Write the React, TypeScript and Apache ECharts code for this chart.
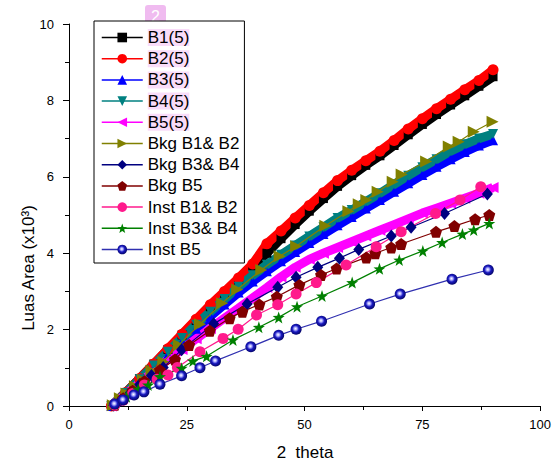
import React, { useEffect, useRef } from "react";
import * as echarts from "echarts";

const FONT = "'Liberation Sans', Arial, sans-serif";

// x positions (2 theta) read for the dense measurement series
const denseX = [9, 12, 15, 18, 21, 24, 27, 30, 33, 36, 39, 42, 45, 48, 51, 54, 57, 60, 63, 66, 69, 72, 75, 78, 81, 84, 87, 90];
const b1Y = [0, 0.35, 0.72, 1.1, 1.48, 1.86, 2.24, 2.6, 2.95, 3.3, 3.65, 4.0, 4.38, 4.75, 5.1, 5.43, 5.75, 6.03, 6.3, 6.55, 6.82, 7.1, 7.37, 7.63, 7.88, 8.12, 8.37, 8.62];
const b2Y = [0, 0.35, 0.72, 1.1, 1.5, 1.88, 2.27, 2.65, 3.0, 3.35, 3.72, 4.25, 4.58, 4.92, 5.25, 5.58, 5.9, 6.17, 6.42, 6.67, 6.95, 7.25, 7.52, 7.78, 8.03, 8.28, 8.52, 8.8];
const b3Y = [0, 0.32, 0.66, 1.0, 1.35, 1.69, 2.02, 2.35, 2.66, 2.97, 3.26, 3.53, 3.79, 4.03, 4.27, 4.5, 4.73, 4.95, 5.17, 5.39, 5.61, 5.83, 6.05, 6.26, 6.46, 6.65, 6.82, 6.96];
const b4Y = [0, 0.34, 0.7, 1.06, 1.42, 1.78, 2.13, 2.47, 2.8, 3.12, 3.42, 3.7, 3.96, 4.2, 4.44, 4.68, 4.92, 5.13, 5.35, 5.57, 5.8, 6.03, 6.25, 6.46, 6.67, 6.85, 7.0, 7.12];
const b5Y = [0, 0.3, 0.6, 0.92, 1.22, 1.48, 1.76, 2.03, 2.3, 2.56, 2.83, 3.1, 3.38, 3.63, 3.84, 4.0, 4.15, 4.3, 4.45, 4.6, 4.75, 4.9, 5.05, 5.18, 5.31, 5.44, 5.57, 5.72];

const bkgB12X = [9.3, 10.8, 12.2, 14.0, 15.7, 17.5, 20.0, 23.3, 27.8, 32.5, 35.7, 40.8, 44.7, 48.2, 54.4, 59.3, 61.5, 63.1, 65.5, 68.7, 70.6, 75.8, 80.6, 82.7, 85.9, 89.9];
const bkgB12Y = [0.02, 0.2, 0.33, 0.52, 0.68, 0.92, 1.16, 1.6, 2.14, 2.69, 3.05, 3.56, 3.92, 4.18, 4.72, 5.1, 5.28, 5.39, 5.61, 5.87, 6.06, 6.4, 6.79, 6.92, 7.18, 7.44];

const bkgB34X = [9.5, 11.0, 13.0, 15.0, 17.5, 20.0, 23.9, 30.7, 37.8, 44.3, 48.2, 52.8, 57.4, 61.5, 68.4, 72.6, 79.7, 88.8];
const bkgB34Y = [0.02, 0.15, 0.35, 0.56, 0.8, 1.01, 1.47, 2.15, 2.67, 3.11, 3.37, 3.63, 3.87, 4.1, 4.45, 4.68, 5.04, 5.55];

const bkgB5X = [9.7, 11.5, 13.5, 16.0, 19.3, 22.5, 25.5, 29.9, 34.1, 36.8, 40.4, 44.1, 48.9, 53.5, 56.8, 63.1, 65.0, 68.4, 70.5, 77.9, 81.8, 86.2, 89.2];
const bkgB5Y = [0.03, 0.2, 0.4, 0.65, 0.94, 1.22, 1.6, 1.97, 2.3, 2.47, 2.66, 2.86, 3.17, 3.43, 3.6, 3.89, 4.0, 4.15, 4.24, 4.56, 4.71, 4.89, 5.0];

const instB12X = [9.7, 11.5, 13.5, 16.0, 18.7, 21.0, 23.0, 27.8, 32.7, 35.9, 39.8, 44.3, 48.2, 52.5, 58.8, 65.2, 70.5, 77.8, 83.0, 87.4];
const instB12Y = [0.02, 0.15, 0.33, 0.55, 0.7, 0.81, 1.01, 1.42, 1.77, 2.01, 2.38, 2.65, 2.93, 3.23, 3.69, 4.17, 4.56, 5.04, 5.39, 5.74];

const instB34X = [9.7, 12.2, 14.7, 16.8, 19.3, 23.9, 26.3, 29.2, 34.8, 40.3, 44.5, 48.4, 53.7, 60.1, 65.9, 70.1, 75.1, 79.2, 83.5, 85.9, 89.2];
const instB34Y = [0.05, 0.24, 0.44, 0.55, 0.77, 0.99, 1.18, 1.3, 1.73, 2.06, 2.32, 2.6, 2.88, 3.23, 3.59, 3.82, 4.06, 4.28, 4.5, 4.61, 4.78];

const instB5X = [9.7, 11.5, 13.8, 15.9, 19.3, 23.9, 27.8, 31.1, 38.6, 44.5, 48.2, 53.6, 63.8, 70.3, 81.3, 89.0];
const instB5Y = [0.05, 0.16, 0.29, 0.37, 0.57, 0.79, 1.0, 1.18, 1.55, 1.85, 2.01, 2.22, 2.67, 2.93, 3.32, 3.56];

const xTicks = { min: 0, max: 100, interval: 25 };
const yTicks = { min: 0, max: 10, interval: 2 };

const STAR = "path://M0,-10L2.35,-3.24L9.51,-3.09L3.8,1.24L5.88,8.09L0,4L-5.88,8.09L-3.8,1.24L-9.51,-3.09L-2.35,-3.24Z";
const PENTA = "path://M0,-10L9.51,-3.09L5.88,8.09L-5.88,8.09L-9.51,-3.09Z";

const zip = (xs: number[], ys: number[]) => xs.map((x, i) => [x, ys[i]]);

export default function App() {
  const ref = useRef<HTMLDivElement>(null);
  useEffect(() => {
    if (!ref.current) return;
    const chart = echarts.init(ref.current, null, { renderer: "svg" });

    const dense = (name: string, ys: number[], color: string, symbol: string, rotate = 0, size = 10) => ({
      name,
      type: "line",
      data: zip(denseX, ys),
      symbol,
      symbolRotate: rotate,
      symbolSize: size,
      showSymbol: true,
      lineStyle: { color, width: 9 },
      itemStyle: { color },
      z: 2,
    });
    const sparse = (name: string, xs: number[], ys: number[], color: string, symbol: string, size: any, rotate = 0, fill?: any) => ({
      name,
      type: "line",
      data: zip(xs, ys),
      symbol,
      symbolRotate: rotate,
      symbolSize: size,
      showSymbol: true,
      lineStyle: { color, width: 1.2 },
      itemStyle: { color: fill || color },
      z: 3,
    });

    const sphere = {
      type: "radial",
      x: 0.45,
      y: 0.45,
      r: 0.6,
      colorStops: [
        { offset: 0, color: "#ffffff" },
        { offset: 0.22, color: "#b0b0ff" },
        { offset: 0.5, color: "#1a1ac0" },
        { offset: 1, color: "#00005a" },
      ],
    };

    const pinkBg = "#f9dcf9";
    const names = ["B1(5)", "B2(5)", "B3(5)", "B4(5)", "B5(5)", "Bkg B1& B2", "Bkg B3& B4", "Bkg B5", "Inst B1& B2", "Inst B3& B4", "Inst B5"];

    chart.setOption({
      animation: false,
      backgroundColor: "#fff",
      textStyle: { fontFamily: FONT },
      grid: { left: 69, right: 13, top: 24, bottom: 54 },
      xAxis: {
        type: "value",
        ...xTicks,
        axisLine: { lineStyle: { color: "#000", width: 1 } },
        axisTick: { length: 5, lineStyle: { color: "#000" } },
        minorTick: { show: true, splitNumber: 2, length: 4, lineStyle: { color: "#000" } },
        splitLine: { show: false },
        axisLabel: { color: "#000", fontSize: 13, margin: 12, fontFamily: FONT },
      },
      yAxis: {
        type: "value",
        ...yTicks,
        axisLine: { show: true, lineStyle: { color: "#000", width: 1 } },
        axisTick: { show: true, length: 6, lineStyle: { color: "#000" } },
        minorTick: { show: true, splitNumber: 2, length: 4, lineStyle: { color: "#000" } },
        splitLine: { show: false },
        axisLabel: { color: "#000", fontSize: 13, margin: 15, fontFamily: FONT },
      },
      legend: {
        orient: "vertical",
        left: 94,
        top: 21,
        padding: [8, 5, 5, 7],
        itemGap: 4.2,
        itemWidth: 41,
        itemHeight: 12,
        borderColor: "#000",
        borderWidth: 1,
        backgroundColor: "#fff",
        lineStyle: { width: 1.5 },
        textStyle: { fontSize: 17, color: "#000", fontFamily: FONT, lineHeight: 17 },
        data: names.map((n, i) => (i < 5 ? { name: n, textStyle: { backgroundColor: pinkBg } } : { name: n })),
      },
      series: [
        dense("B1(5)", b1Y, "#000000", "rect", 0, 9),
        dense("B2(5)", b2Y, "#ff0000", "circle", 0, 11),
        dense("B3(5)", b3Y, "#0000ff", "triangle", 0, 10),
        dense("B4(5)", b4Y, "#008080", "triangle", 180, 10),
        dense("B5(5)", b5Y, "#ff00ff", "triangle", 90, 11),
        sparse("Bkg B1& B2", bkgB12X, bkgB12Y, "#808000", "triangle", 12, -90),
        sparse("Bkg B3& B4", bkgB34X, bkgB34Y, "#000080", "diamond", [11, 13]),
        sparse("Bkg B5", bkgB5X, bkgB5Y, "#800000", PENTA, 12),
        sparse("Inst B1& B2", instB12X, instB12Y, "#ff1a8c", "circle", 11),
        sparse("Inst B3& B4", instB34X, instB34Y, "#008000", STAR, 12),
        sparse("Inst B5", instB5X, instB5Y, "#3030b0", "circle", 11, 0, sphere),
      ],
      graphic: [
        {
          type: "text",
          x: 28,
          y: 268,
          rotation: Math.PI / 2,
          style: { text: "Luas Area (x10³)", fontSize: 17, fontFamily: FONT, fill: "#000", textAlign: "center", textVerticalAlign: "middle" },
        },
        {
          type: "text",
          x: 305,
          y: 452,
          style: { text: "2  theta", fontSize: 17, fontFamily: FONT, fill: "#000", textAlign: "center", textVerticalAlign: "middle" },
        },
        {
          type: "group",
          z: 100,
          children: [
            { type: "rect", shape: { x: 145, y: 5, width: 21, height: 22, r: 3 }, style: { fill: "rgba(225,120,225,0.5)" } },
            { type: "text", x: 155.5, y: 16, style: { text: "2", fontSize: 16, fontFamily: FONT, fill: "#ffffff", textAlign: "center", textVerticalAlign: "middle" } },
          ],
        },
      ],
    });
    return () => chart.dispose();
  }, []);
  return <div ref={ref} style={{ position: "fixed", left: 0, top: 0, width: 554, height: 460 }} />;
}
